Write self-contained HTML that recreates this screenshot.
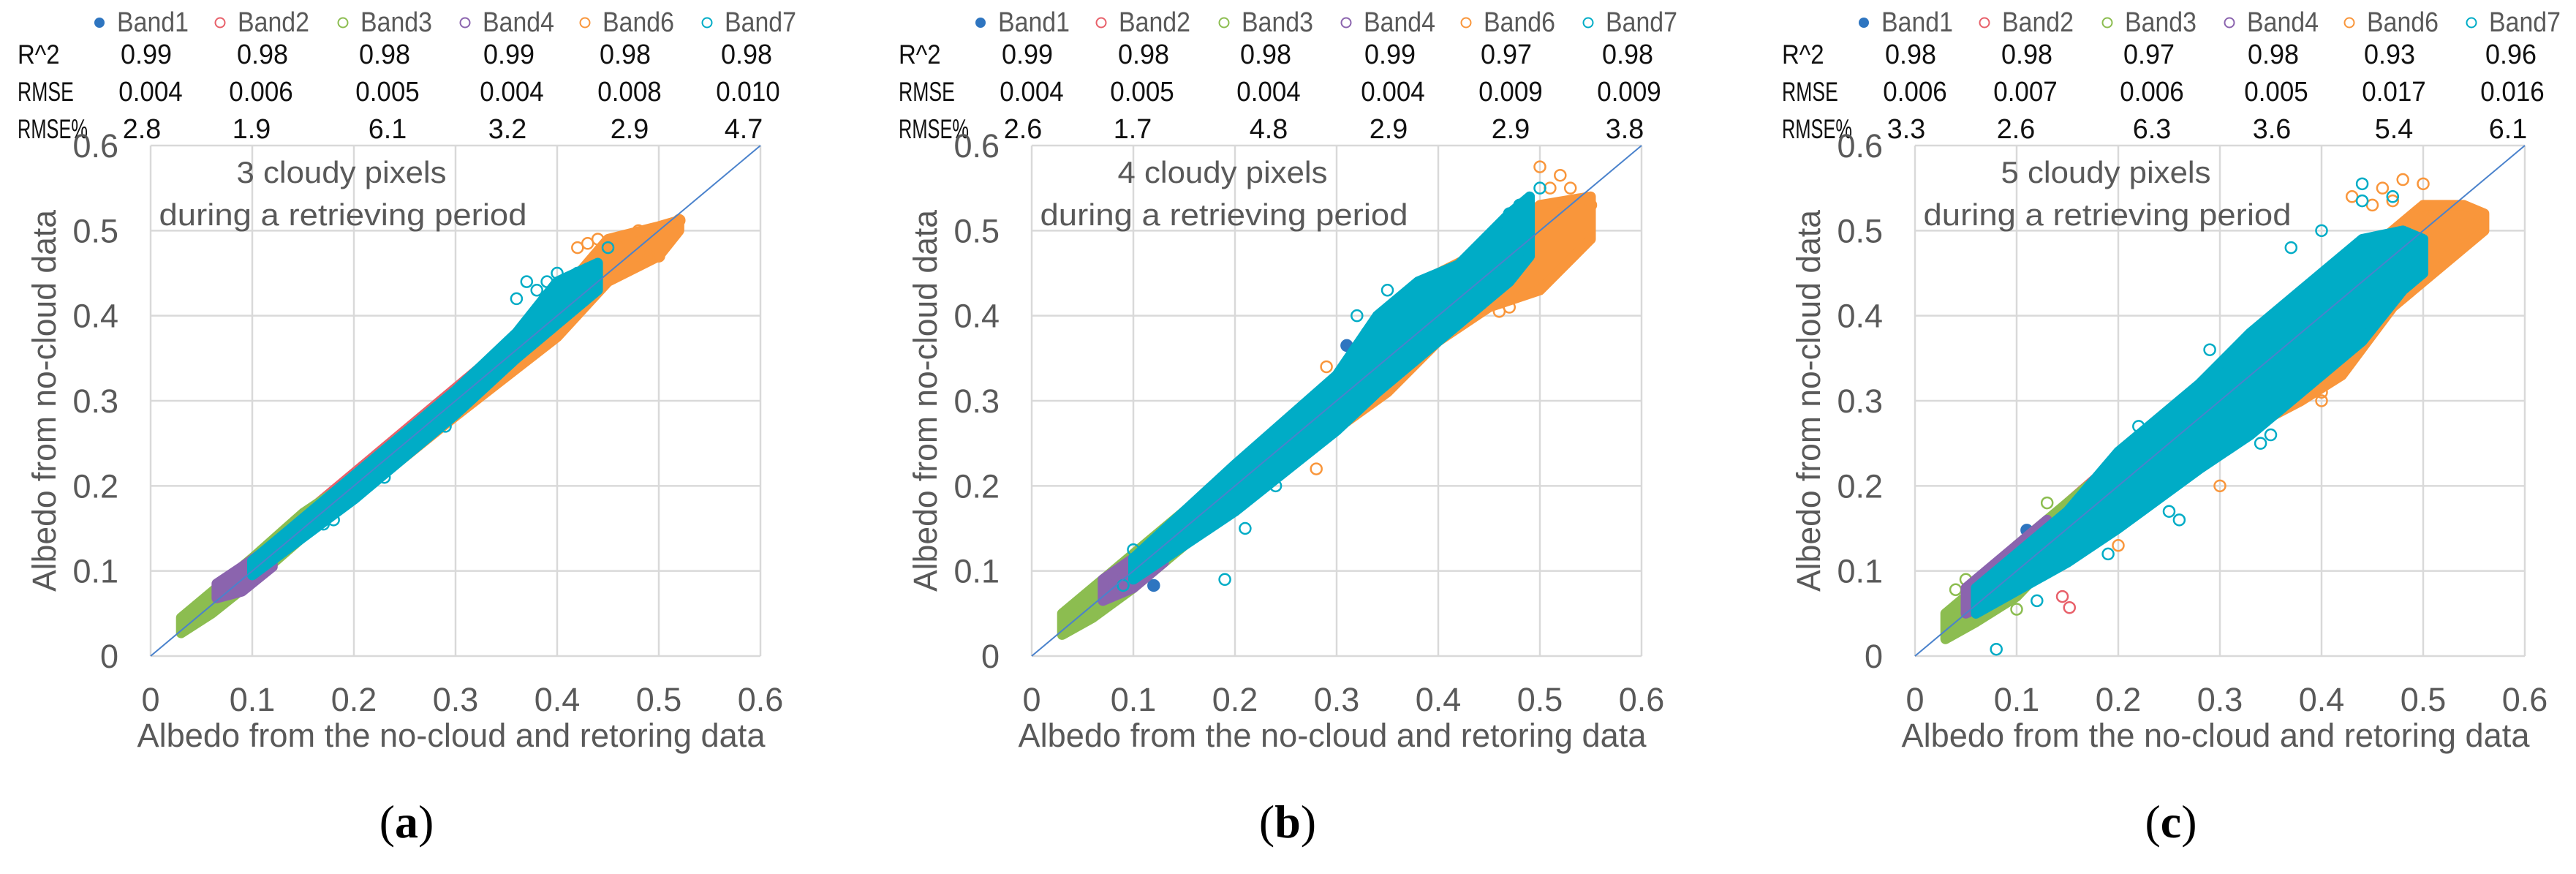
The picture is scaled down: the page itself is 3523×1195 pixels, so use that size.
<!DOCTYPE html>
<html><head><meta charset="utf-8">
<style>
html,body{margin:0;padding:0;background:#fff;}
svg{display:block;}
</style></head>
<body>
<svg id="fig" xmlns="http://www.w3.org/2000/svg" width="3523" height="1195" viewBox="0 0 3523 1195"></svg>
<script>
// ---------- data ----------
const bandNames = ["Band1","Band2","Band3","Band4","Band6","Band7"];
const panelLabels = ["a","b","c"];
const cloudyCounts = [3,4,5];
const r2Values = [["0.99","0.98","0.98","0.99","0.98","0.98"],["0.99","0.98","0.98","0.99","0.97","0.98"],["0.98","0.98","0.97","0.98","0.93","0.96"]];
const rmseValues = [["0.004","0.006","0.005","0.004","0.008","0.010"],["0.004","0.005","0.004","0.004","0.009","0.009"],["0.006","0.007","0.006","0.005","0.017","0.016"]];
const rmsePctValues = [["2.8","1.9","6.1","3.2","2.9","4.7"],["2.6","1.7","4.8","2.9","2.9","3.8"],["3.3","2.6","6.3","3.6","5.4","6.1"]];
const tickValues = [0,0.1,0.2,0.3,0.4,0.5,0.6];
const tickLabels = ["0","0.1","0.2","0.3","0.4","0.5","0.6"];

// dense cores: per panel, per band -> x, lower y, upper y
const coreA_b3 = {x:[0.03,0.06,0.1,0.15,0.19], lo:[0.027,0.05,0.088,0.14,0.178], hi:[0.045,0.075,0.115,0.168,0.2]};
const coreA_b4 = {x:[0.065,0.09,0.12], lo:[0.068,0.076,0.105], hi:[0.085,0.105,0.13]};
const coreA_b2 = {x:[0.15,0.35], lo:[0.14,0.34], hi:[0.165,0.365]};
const coreA_b6 = {x:[0.22,0.3,0.4,0.45,0.5,0.52], lo:[0.205,0.282,0.375,0.44,0.47,0.5], hi:[0.232,0.312,0.42,0.49,0.505,0.512]};
const coreA_b7 = {x:[0.1,0.2,0.3,0.36,0.4,0.44], lo:[0.095,0.184,0.284,0.35,0.39,0.43], hi:[0.112,0.212,0.312,0.38,0.44,0.462]};
const coreB_b3 = {x:[0.03,0.06,0.1,0.15,0.18], lo:[0.025,0.045,0.08,0.13,0.17], hi:[0.05,0.08,0.12,0.17,0.2]};
const coreB_b4 = {x:[0.07,0.1,0.13], lo:[0.065,0.08,0.11], hi:[0.09,0.115,0.14]};
const coreB_b2 = {x:[0.15,0.4], lo:[0.13,0.37], hi:[0.17,0.43]};
const coreB_b6 = {x:[0.28,0.35,0.4,0.45,0.5,0.55], lo:[0.25,0.31,0.37,0.41,0.43,0.49], hi:[0.3,0.38,0.45,0.48,0.53,0.54]};
const coreB_b7 = {x:[0.1,0.2,0.3,0.34,0.38,0.42,0.47,0.49], lo:[0.09,0.17,0.265,0.31,0.35,0.39,0.44,0.47], hi:[0.115,0.225,0.33,0.4,0.44,0.46,0.52,0.54]};
const coreC_b3 = {x:[0.03,0.06,0.1,0.14,0.17], lo:[0.02,0.04,0.07,0.12,0.15], hi:[0.05,0.08,0.13,0.17,0.2]};
const coreC_b4 = {x:[0.05,0.09,0.13], lo:[0.05,0.07,0.1], hi:[0.08,0.12,0.16]};
const coreC_b2 = {x:[0.15,0.4], lo:[0.12,0.36], hi:[0.18,0.44]};
const coreC_b6 = {x:[0.3,0.38,0.42,0.47,0.5,0.54,0.56], lo:[0.25,0.3,0.33,0.41,0.44,0.48,0.5], hi:[0.32,0.4,0.45,0.5,0.53,0.53,0.52]};
const coreC_b7 = {x:[0.06,0.15,0.2,0.28,0.33,0.38,0.44,0.48,0.5], lo:[0.05,0.11,0.15,0.22,0.26,0.31,0.37,0.43,0.45], hi:[0.08,0.17,0.24,0.32,0.38,0.43,0.49,0.5,0.49]};

// outlier points [x,y]
const outA_b6 = [[0.52,0.512],[0.5,0.47],[0.42,0.48],[0.44,0.49],[0.41,0.4],[0.43,0.485],[0.48,0.5],[0.46,0.48],[0.49,0.47],[0.3,0.29]];
const outA_b7 = [[0.36,0.42],[0.37,0.44],[0.45,0.48],[0.4,0.45],[0.18,0.16],[0.17,0.155],[0.39,0.44],[0.42,0.45],[0.23,0.21],[0.29,0.27],[0.38,0.43],[0.41,0.44],[0.43,0.455]];
const outA_b1 = [];
const outB_b6 = [[0.5,0.575],[0.52,0.565],[0.55,0.53],[0.28,0.22],[0.46,0.405],[0.29,0.34],[0.53,0.55],[0.47,0.41],[0.51,0.55]];
const outB_b7 = [[0.19,0.09],[0.21,0.15],[0.1,0.125],[0.35,0.43],[0.32,0.4],[0.5,0.55],[0.47,0.52],[0.09,0.083],[0.33,0.38],[0.48,0.53],[0.24,0.2]];
const outB_b1 = [[0.12,0.083],[0.31,0.365]];
const outC_b6 = [[0.48,0.56],[0.46,0.55],[0.43,0.54],[0.5,0.555],[0.2,0.13],[0.4,0.3],[0.3,0.2],[0.47,0.535],[0.45,0.53],[0.4,0.31],[0.55,0.52]];
const outC_b7 = [[0.08,0.008],[0.12,0.065],[0.19,0.12],[0.26,0.16],[0.25,0.17],[0.34,0.25],[0.35,0.26],[0.44,0.555],[0.37,0.48],[0.4,0.5],[0.29,0.36],[0.22,0.27],[0.44,0.535],[0.47,0.54]];
const outC_b1 = [[0.11,0.148]];
const outC_b2 = [[0.145,0.07],[0.152,0.057]];
const outC_b3 = [[0.05,0.09],[0.1,0.055],[0.13,0.18],[0.04,0.078]];
</script>
<script>
const NS="http://www.w3.org/2000/svg";
const svg=document.getElementById('fig');
const colors={Band1:"#2e75c0",Band2:"#e8606a",Band3:"#8cbd50",Band4:"#8b64ae",Band6:"#f9963b",Band7:"#00acc6"};
const PL=206,PW=834,PT=199,PH=698,XMAX=0.6;
const panelOffsets=[0,1205,2413];
function mk(tag,attrs,parent){const e=document.createElementNS(NS,tag);for(const k in attrs)e.setAttribute(k,attrs[k]);(parent||svg).appendChild(e);return e;}
function txt(s,attrs,parent){const e=mk('text',attrs,parent);e.textContent=s;return e;}
const FONT='"Liberation Sans", sans-serif';

const legendMarkX=[136,301,469,636,800,967];
const r2X=[200,359,526,696,855,1021];
const rmseX=[206,357,530,700,861,1023];
const pctX=[194,344,530,694,861,1017];
const cores=[[coreA_b2,coreA_b3,coreA_b4,coreA_b6,coreA_b7],[coreB_b2,coreB_b3,coreB_b4,coreB_b6,coreB_b7],[coreC_b2,coreC_b3,coreC_b4,coreC_b6,coreC_b7]];
const coreBands=["Band2","Band3","Band4","Band6","Band7"];
const outs=[{Band1:outA_b1,Band6:outA_b6,Band7:outA_b7},{Band1:outB_b1,Band6:outB_b6,Band7:outB_b7},{Band1:outC_b1,Band2:outC_b2,Band3:outC_b3,Band6:outC_b6,Band7:outC_b7}];

panelLabels.forEach((lab,p)=>{
  const g=mk('g',{transform:`translate(${panelOffsets[p]},0)`});
  
  
  const sx=v=>PL+v/XMAX*PW, sy=v=>PT+PH-v/XMAX*PH;
  // legend
  bandNames.forEach((b,i)=>{
    const le=mk('g',{},g);
    
    
    if(i===0) mk('circle',{cx:legendMarkX[i],cy:31,r:7,fill:colors[b]},le);
    else mk('circle',{cx:legendMarkX[i],cy:31,r:6.5,fill:'none',stroke:colors[b],'stroke-width':2},le);
    txt(b,{x:legendMarkX[i]+24,y:43,'font-family':FONT,'font-size':38,fill:'#595959',textLength:b.length*19.6,lengthAdjust:'spacingAndGlyphs'},le);
  });
  // table
  const rows=[["R^2",r2Values[p],r2X,87],["RMSE",rmseValues[p],rmseX,138],["RMSE%",rmsePctValues[p],pctX,189]];
  rows.forEach(([name,vals,xs,y])=>{
    const rg=mk('g',{},g);
    
    
    txt(name,{x:24,y:y,'font-family':FONT,'font-size':37,fill:'#111',textLength:name.length*19.2,lengthAdjust:'spacingAndGlyphs'},rg);
    vals.forEach((v,i)=>txt(v,{x:xs[i],y:y,'text-anchor':'middle','font-family':FONT,'font-size':38,fill:'#111',textLength:v.length*17.5,lengthAdjust:'spacingAndGlyphs'},rg));
  });
  // grid
  const grid=mk('g',{},g);
  
  
  tickValues.forEach(t=>{
    mk('line',{x1:sx(t),x2:sx(t),y1:PT,y2:PT+PH,stroke:'#d9d9d9','stroke-width':2.5},grid);
    mk('line',{x1:PL,x2:PL+PW,y1:sy(t),y2:sy(t),stroke:'#d9d9d9','stroke-width':2.5},grid);
  });
  // annotation
  const an=mk('g',{},g);
  
  
  txt(cloudyCounts[p]+" cloudy pixels",{x:467,y:250,'text-anchor':'middle','font-family':FONT,'font-size':42,fill:'#595959',textLength:287,lengthAdjust:'spacingAndGlyphs'},an);
  txt("during a retrieving period",{x:469,y:308,'text-anchor':'middle','font-family':FONT,'font-size':42,fill:'#595959',textLength:503,lengthAdjust:'spacingAndGlyphs'},an);
  // cores
  const clip='clip'+p;
  const cp=mk('clipPath',{id:clip},g); mk('rect',{x:PL-10,y:PT-10,width:PW+20,height:PH+20},cp);
  const sg=mk('g',{'clip-path':`url(#${clip})`},g);
  
  
  const order=["Band1","Band2","Band3","Band4","Band6","Band7"];
  order.forEach(b=>{
    const ci=coreBands.indexOf(b);
    if(ci>=0){
      const c=cores[p][ci];
      let pts=c.x.map((x,i)=>sx(x)+','+sy(c.hi[i]));
      for(let i=c.x.length-1;i>=0;i--)pts.push(sx(c.x[i])+','+sy(c.lo[i]));
      const poly=mk('polygon',{points:pts.join(' '),fill:colors[b],stroke:colors[b],'stroke-width':14,'stroke-linejoin':'round'},sg);
      
      
    }
    const o=outs[p][b]||[];
    o.forEach(([x,y])=>{
      const c=mk('circle',{cx:sx(x),cy:sy(y),r:7.5,fill:b==="Band1"?colors[b]:'none',stroke:colors[b],'stroke-width':2.5},sg);
      
      
    });
  });
  const dl=mk('line',{x1:sx(0),y1:sy(0),x2:sx(0.6),y2:sy(0.6),stroke:'#4a82cc','stroke-width':2},g);
  
  
  // ticks
  const xt=mk('g',{},g);  
  const yt=mk('g',{},g);  
  tickValues.forEach((t,i)=>{
    txt(tickLabels[i],{x:sx(t),y:972,'text-anchor':'middle','font-family':FONT,'font-size':45,fill:'#595959'},xt);
    txt(tickLabels[i],{x:162,y:sy(t)+16,'text-anchor':'end','font-family':FONT,'font-size':45,fill:'#595959'},yt);
  });
  const xtl=txt("Albedo from the no-cloud and retoring data",{x:617,y:1021,'text-anchor':'middle','font-family':FONT,'font-size':45,fill:'#595959',textLength:859,lengthAdjust:'spacingAndGlyphs'},g);
   
  const ytl=txt("Albedo from no-cloud data",{x:0,y:0,transform:'translate(76,548) rotate(-90)','text-anchor':'middle','font-family':FONT,'font-size':45,fill:'#595959',textLength:522,lengthAdjust:'spacingAndGlyphs'},g);
   
  const pl=mk('text',{x:556,y:1145,'text-anchor':'middle','font-family':'"Liberation Serif", serif','font-size':64,fill:'#000'},g);
   
  pl.innerHTML='(<tspan font-weight="bold">'+lab+'</tspan>)';
});
</script>
</body></html>
